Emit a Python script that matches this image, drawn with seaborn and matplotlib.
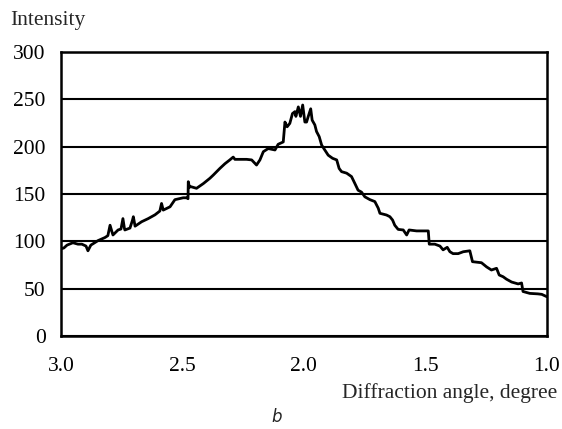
"""
Diffraction intensity profile (panel b), redrawn with seaborn.
"""

import pandas as pd
import seaborn as sns
from matplotlib import pyplot as plt

# Diffraction angle (degree) and intensity
ANGLE = [
    3.000, 2.988, 2.975, 2.951, 2.930, 2.914, 2.897, 2.889, 2.877, 2.848,
    2.819, 2.807, 2.798, 2.790, 2.786, 2.765, 2.753, 2.745, 2.739, 2.737,
    2.716, 2.706, 2.702, 2.695, 2.668, 2.641, 2.613, 2.593, 2.586, 2.579,
    2.551, 2.531, 2.497, 2.483, 2.477, 2.476, 2.471, 2.469, 2.442, 2.414,
    2.387, 2.373, 2.346, 2.325, 2.305, 2.291, 2.284, 2.236, 2.215, 2.195,
    2.181, 2.167, 2.147, 2.119, 2.106, 2.085, 2.078, 2.069, 2.058, 2.047,
    2.037, 2.033, 2.023, 2.014, 2.005, 1.996, 1.989, 1.982, 1.972, 1.966,
    1.955, 1.948, 1.937, 1.927, 1.914, 1.900, 1.882, 1.865, 1.855, 1.845,
    1.824, 1.804, 1.790, 1.777, 1.763, 1.749, 1.728, 1.708, 1.694, 1.687,
    1.660, 1.646, 1.635, 1.626, 1.612, 1.591, 1.577, 1.567, 1.536, 1.488,
    1.484, 1.461, 1.440, 1.427, 1.410, 1.399, 1.386, 1.365, 1.344, 1.317,
    1.306, 1.269, 1.248, 1.228, 1.207, 1.196, 1.180, 1.166, 1.145, 1.118,
    1.104, 1.098, 1.070, 1.037, 1.021, 1.000,
]
INTENSITY = [
    92, 93, 96, 98.5, 97, 97, 95, 90, 96, 100.7,
    104, 106, 117, 110, 106.7, 112, 113, 124, 114, 112,
    114, 122, 126, 116, 120.7, 124, 128, 132, 140, 133,
    136.5, 144, 146, 146, 145, 163, 157, 158, 156, 161,
    166.6, 170, 177, 182, 186, 189, 186.6, 186.6, 186, 180.6,
    186, 194.7, 198, 196.5, 202.5, 205, 226, 221, 224.6, 235,
    237, 232, 242, 232, 244, 226, 226, 232, 240, 228,
    223, 216, 210.6, 201.7, 196.5, 191, 187.7, 186, 177, 173.6,
    172, 168.4, 161, 154, 152, 147, 144, 142, 135, 129.6,
    127.8, 126, 122.5, 117, 112.6, 112, 106.7, 112, 111, 111,
    97, 97, 95, 91, 93.7, 89, 87, 87, 89, 90,
    78.5, 77.4, 73, 69.7, 71.5, 64.4, 62.6, 60, 57, 55,
    56, 47, 45, 44.5, 44, 41.5,
]
X_TICKS = [3.0, 2.5, 2.0, 1.5, 1.0]
Y_TICKS = [0, 50, 100, 150, 200, 250, 300]

df = pd.DataFrame({"angle": ANGLE, "intensity": INTENSITY})

sns.set_theme(style="white")
plt.rcParams["font.family"] = ["Liberation Serif", "DejaVu Serif"]

fig = plt.figure(figsize=(5.62, 4.29), dpi=100)
ax = fig.add_axes([0.1085, 0.2168, 0.8645, 0.662])

sns.lineplot(
    data=df,
    x="angle",
    y="intensity",
    sort=False,
    estimator=None,
    color="black",
    linewidth=2.0,
    ax=ax,
)

ax.set_xlim(3.0, 1.0)
ax.set_ylim(0, 300)
ax.set_xticks(X_TICKS)
ax.set_xticklabels([f"{t:.1f}" for t in X_TICKS])
ax.set_yticks(Y_TICKS)
ax.set_yticklabels([str(t) for t in Y_TICKS])
ax.tick_params(axis="both", length=0, labelsize=15.5, colors="black")
ax.tick_params(axis="x", pad=15)
ax.tick_params(axis="y", pad=11)
ax.set(xlabel="", ylabel="")

# Horizontal grid lines only
ax.yaxis.grid(True, color="black", linewidth=1.5)
ax.xaxis.grid(False)
ax.set_axisbelow(True)
for side in ["left", "right", "top", "bottom"]:
    ax.spines[side].set_visible(True)
    ax.spines[side].set_color("black")
    ax.spines[side].set_linewidth(1.8)

fig.text(0.018, 0.953, "Intensity", fontsize=15.5, ha="left", va="center")
fig.text(0.991, 0.083, "Diffraction angle, degree", fontsize=15.5, ha="right", va="center")
fig.text(0.493, 0.027, "b", fontsize=12, style="italic", family="DejaVu Sans",
         ha="center", va="center")

fig.savefig("out.png", dpi=100)
